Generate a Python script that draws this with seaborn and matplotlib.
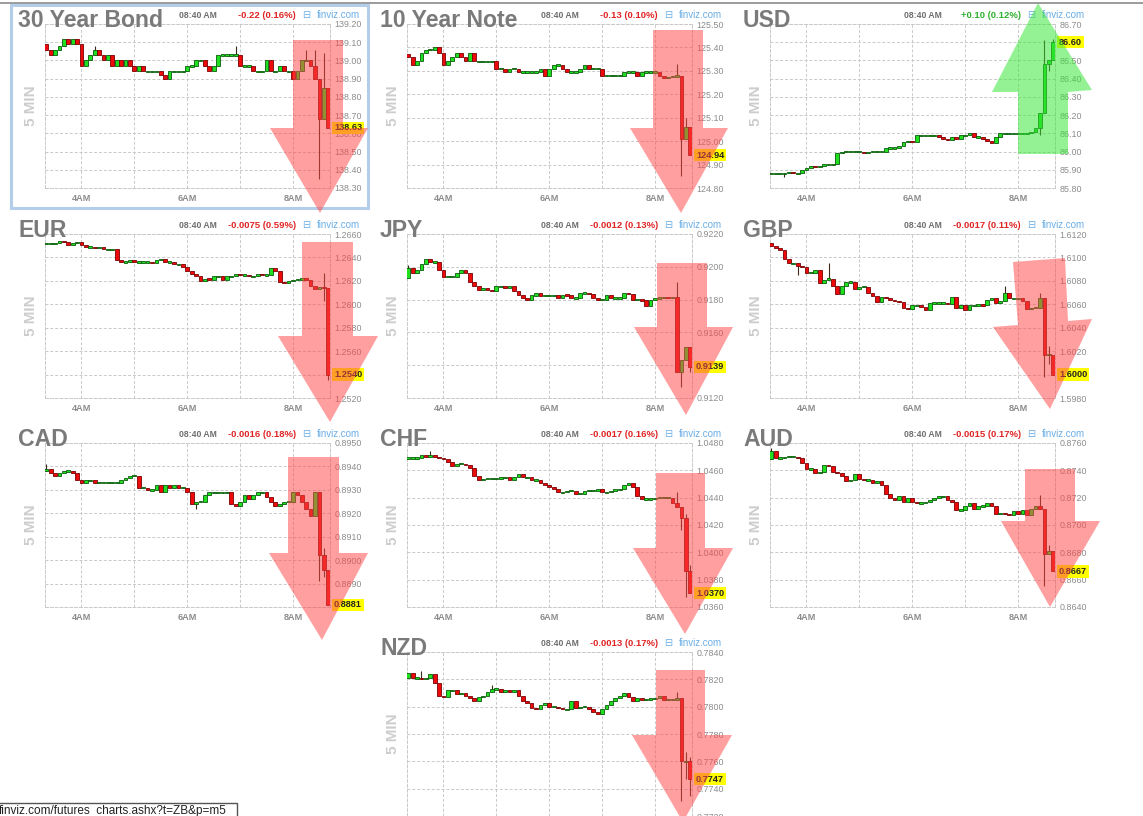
import numpy as np
import matplotlib
matplotlib.use("Agg")
import matplotlib.pyplot as plt
from matplotlib.patches import Polygon, Rectangle
import seaborn as sns

# ------------------------------------------------------------------ data
titles = ["30 Year Bond", "10 Year Note", "USD", "EUR", "JPY", "GBP",
          "CAD", "CHF", "AUD", "NZD"]
changes = ["-0.22 (0.16%)", "-0.13 (0.10%)", "+0.10 (0.12%)", "-0.0075 (0.59%)",
           "-0.0012 (0.13%)", "-0.0017 (0.11%)", "-0.0016 (0.18%)", "-0.0017 (0.16%)",
           "-0.0015 (0.17%)", "-0.0013 (0.17%)"]
last_labels = ["138.63", "124.94", "86.60", "1.2540", "0.9139", "1.6000",
               "0.8881", "1.0370", "0.8667", "0.7747"]
y_min = [138.30, 124.80, 85.80, 1.2520, 0.9120, 1.5980, 0.8880, 1.0360, 0.8640, 0.7720]
y_max = [139.20, 125.50, 86.70, 1.2660, 0.9220, 1.6120, 0.8950, 1.0480, 0.8760, 0.7840]
y_step = [0.10, 0.10, 0.10, 0.0020, 0.0020, 0.0020, 0.0010, 0.0020, 0.0020, 0.0020]
decimals = [2, 2, 2, 4, 4, 4, 4, 4, 4, 4]
first_open = [139.09, 125.37, 85.88, 1.2652, 0.9193, 1.6112, 0.8938, 1.0469, 0.8748, 0.7821]
time_labels = ["4AM", "6AM", "8AM"]
time_label_hours = [4, 6, 8]
time_header = "08:40 AM"

# 5-minute closes, 03:20 .. 08:40
bond30_close = [139.06, 139.03, 139.06, 139.08, 139.12, 139.09, 139.12, 139.09, 138.97, 139.00,
                139.03, 139.06, 139.03, 139.00, 139.03, 138.97, 139.00, 138.97, 139.00, 138.97,
                138.94, 138.97, 138.94, 138.94, 138.94, 138.94, 138.92, 138.90, 138.94, 138.94,
                138.94, 138.94, 138.97, 138.97, 139.00, 139.00, 138.97, 138.94, 138.97, 139.03,
                139.03, 139.03, 139.03, 139.03, 138.97, 138.97, 138.97, 138.94, 138.94, 138.94,
                139.00, 138.94, 138.94, 138.97, 138.94, 138.94, 138.90, 138.94, 139.00, 139.00,
                138.97, 138.90, 138.68, 138.85, 138.63]
note10_close = [125.36, 125.325, 125.34, 125.375, 125.39, 125.39, 125.40, 125.375, 125.325, 125.34,
                125.36, 125.375, 125.36, 125.34, 125.375, 125.34, 125.34, 125.34, 125.34, 125.34,
                125.31, 125.31, 125.295, 125.31, 125.31, 125.295, 125.295, 125.295, 125.295, 125.295,
                125.31, 125.28, 125.31, 125.325, 125.325, 125.31, 125.295, 125.295, 125.295, 125.31,
                125.325, 125.31, 125.31, 125.31, 125.28, 125.28, 125.28, 125.28, 125.28, 125.295,
                125.295, 125.295, 125.28, 125.295, 125.295, 125.295, 125.295, 125.28, 125.27, 125.275,
                125.275, 125.28, 125.01, 125.06, 124.94]
usd_close = [85.88, 85.88, 85.88, 85.88, 85.89, 85.88, 85.88, 85.90, 85.91, 85.92,
             85.915, 85.92, 85.93, 85.93, 85.93, 85.99, 86.00, 86.00, 86.00, 86.00,
             86.00, 85.99, 86.00, 86.00, 86.00, 86.00, 86.02, 86.02, 86.02, 86.03,
             86.05, 86.06, 86.05, 86.09, 86.09, 86.09, 86.09, 86.09, 86.08, 86.07,
             86.065, 86.08, 86.07, 86.09, 86.09, 86.10, 86.08, 86.08, 86.07, 86.06,
             86.045, 86.08, 86.10, 86.10, 86.10, 86.10, 86.10, 86.10, 86.10, 86.11,
             86.13, 86.21, 86.48, 86.50, 86.60]
eur_close = [1.2652, 1.2652, 1.2652, 1.2654, 1.2653, 1.2651, 1.2652, 1.2653, 1.2651, 1.2649,
             1.2649, 1.2648, 1.2649, 1.2647, 1.2647, 1.2647, 1.2638, 1.2636, 1.2636, 1.2638,
             1.2636, 1.2636, 1.2636, 1.2636, 1.2635, 1.2638, 1.2639, 1.2636, 1.2636, 1.2634,
             1.2634, 1.2632, 1.2628, 1.2626, 1.2624, 1.2620, 1.2622, 1.2621, 1.2624, 1.2624,
             1.2621, 1.2624, 1.2624, 1.2626, 1.2625, 1.2625, 1.2624, 1.2624, 1.2626, 1.2625,
             1.2625, 1.2631, 1.2628, 1.2619, 1.2618, 1.2620, 1.2621, 1.2621, 1.2622, 1.2621,
             1.2616, 1.2613, 1.2615, 1.2614, 1.2540]
jpy_close = [0.9199, 0.9196, 0.9198, 0.9202, 0.9205, 0.9203, 0.9203, 0.9198, 0.9194, 0.9194,
             0.9194, 0.9196, 0.9198, 0.9196, 0.9191, 0.9188, 0.9186, 0.9187, 0.9186, 0.9185,
             0.9188, 0.9188, 0.9187, 0.9188, 0.9185, 0.9183, 0.9181, 0.9180, 0.91825, 0.9184,
             0.91825, 0.91825, 0.91825, 0.91825, 0.9181, 0.9183, 0.91825, 0.9181, 0.9181, 0.9184,
             0.9184, 0.91835, 0.9181, 0.9180, 0.9180, 0.9183, 0.9181, 0.9181, 0.9181, 0.9184,
             0.91835, 0.9180, 0.9180, 0.91795, 0.9176, 0.9180, 0.9181, 0.9181, 0.91815, 0.9181,
             0.91815, 0.9136, 0.9143, 0.9151, 0.9139]
gbp_close = [1.6110, 1.6108, 1.6106, 1.6099, 1.6095, 1.6095, 1.6093, 1.6092, 1.6087, 1.6087,
             1.6089, 1.6078, 1.6081, 1.6082, 1.6076, 1.6069, 1.6076, 1.6079, 1.6079, 1.6073,
             1.6075, 1.6075, 1.6070, 1.6067, 1.6062, 1.6066, 1.6065, 1.6064, 1.6063, 1.6062,
             1.6057, 1.6056, 1.6059, 1.6059, 1.6058, 1.6055, 1.6061, 1.6061, 1.6061, 1.6061,
             1.6060, 1.6066, 1.6057, 1.6059, 1.6055, 1.6059, 1.6059, 1.6060, 1.6059, 1.6064,
             1.6065, 1.6061, 1.6063, 1.6070, 1.6065, 1.6065, 1.6065, 1.6063, 1.6056, 1.6057,
             1.6057, 1.6065, 1.6017, 1.6017, 1.6000]
cad_close = [0.8939, 0.8937, 0.8936, 0.8937, 0.8938, 0.8938, 0.8937, 0.8934, 0.8933, 0.8934,
             0.8934, 0.8933, 0.8933, 0.8933, 0.8933, 0.8933, 0.8933, 0.8934, 0.8935, 0.8936,
             0.8936, 0.8931, 0.8931, 0.8930, 0.8930, 0.8932, 0.8929, 0.8932, 0.8931, 0.8932,
             0.8931, 0.8931, 0.8929, 0.8924, 0.8925, 0.8925, 0.8928, 0.8929, 0.8929, 0.8929,
             0.8929, 0.8929, 0.8924, 0.8923, 0.8925, 0.8928, 0.8926, 0.8928, 0.8929, 0.8929,
             0.8927, 0.8925, 0.8923, 0.8924, 0.8925, 0.8925, 0.8929, 0.8928, 0.8925, 0.8922,
             0.8919, 0.8929, 0.8902, 0.8896, 0.8881]
chf_close = [1.0469, 1.0469, 1.0469, 1.0471, 1.0470, 1.0471, 1.0470, 1.0469, 1.0468, 1.0466,
             1.0463, 1.0465, 1.0465, 1.0464, 1.0462, 1.0456, 1.0453, 1.0454, 1.0454, 1.0454,
             1.0454, 1.0455, 1.0455, 1.0453, 1.0455, 1.0457, 1.0455, 1.0455, 1.0453, 1.0453,
             1.0451, 1.0449, 1.0448, 1.0446, 1.0444, 1.0444, 1.0445, 1.0445, 1.0443, 1.0443,
             1.0445, 1.0445, 1.0445, 1.0446, 1.0444, 1.0444, 1.0445, 1.0446, 1.0446, 1.0449,
             1.0451, 1.0448, 1.0441, 1.0439, 1.0439, 1.0439, 1.0440, 1.0440, 1.0440, 1.0440,
             1.0436, 1.0433, 1.0425, 1.0386, 1.0370]
aud_close = [0.8754, 0.8749, 0.8749, 0.8750, 0.8750, 0.8750, 0.8749, 0.8745, 0.8741, 0.8741,
             0.8738, 0.8739, 0.8744, 0.8743, 0.8739, 0.8738, 0.8736, 0.8732, 0.8733, 0.8737,
             0.8734, 0.8733, 0.8733, 0.8731, 0.8732, 0.8729, 0.8723, 0.8720, 0.8718, 0.8721,
             0.8717, 0.8720, 0.8717, 0.8716, 0.8716, 0.8717, 0.8718, 0.8720, 0.8721, 0.8721,
             0.8718, 0.8717, 0.8711, 0.8711, 0.8714, 0.8716, 0.8712, 0.8714, 0.8714, 0.8716,
             0.8714, 0.8708, 0.8709, 0.8708, 0.8707, 0.8710, 0.8708, 0.8711, 0.8707, 0.8712,
             0.8714, 0.8712, 0.8679, 0.8681, 0.8666]
nzd_close = [0.7825, 0.7821, 0.7821, 0.7820, 0.7821, 0.7824, 0.7817, 0.7808, 0.7807, 0.7812,
             0.7812, 0.7809, 0.7810, 0.7808, 0.7806, 0.7804, 0.7807, 0.7808, 0.7811, 0.7813,
             0.7813, 0.7811, 0.7812, 0.7811, 0.7812, 0.7808, 0.7804, 0.7803, 0.7799, 0.7798,
             0.7801, 0.7803, 0.7800, 0.7800, 0.7799, 0.7798, 0.7798, 0.7804, 0.7799, 0.7800,
             0.7800, 0.7798, 0.7796, 0.7795, 0.7798, 0.7801, 0.7804, 0.7806, 0.7808, 0.7810,
             0.7807, 0.7804, 0.7806, 0.7805, 0.7805, 0.7806, 0.7806, 0.7808, 0.7805, 0.7805,
             0.7805, 0.7806, 0.7760, 0.7760, 0.7747]

# wicks: (bar index, low, high)
bond30_wicks = [(11, 139.03, 139.08), (43, 139.03, 139.08), (59, 139.00, 139.06),
                (61, 138.90, 139.06), (62, 138.35, 138.90), (63, 138.68, 139.04)]
note10_wicks = [(61, 125.28, 125.33), (62, 124.85, 125.28), (63, 125.01, 125.10)]
usd_wicks = [(3, 85.86, 85.88), (61, 86.09, 86.21), (62, 86.21, 86.61),
             (63, 86.44, 86.50), (64, 86.50, 86.62)]
eur_wicks = [(63, 1.2603, 1.2627), (64, 1.2535, 1.2614)]
jpy_wicks = [(0, 0.9193, 0.9201), (61, 0.9136, 0.9191), (62, 0.9127, 0.9143), (64, 0.9136, 0.9151)]
gbp_wicks = [(6, 1.6085, 1.6093), (13, 1.6082, 1.6095), (53, 1.6070, 1.6076),
             (61, 1.6057, 1.6070), (62, 1.5998, 1.6065), (63, 1.6009, 1.6024)]
cad_wicks = [(0, 0.8938, 0.8941), (34, 0.8922, 0.8925), (62, 0.8891, 0.8929), (63, 0.8893, 0.8905)]
chf_wicks = [(5, 1.0470, 1.0474), (61, 1.0433, 1.0444), (62, 1.0416, 1.0433),
             (63, 1.0367, 1.0428), (64, 1.0370, 1.0391)]
aud_wicks = [(0, 0.8748, 0.8756), (61, 0.8712, 0.8722), (62, 0.8655, 0.8712), (63, 0.8679, 0.8685)]
nzd_wicks = [(3, 0.7820, 0.7826), (19, 0.7811, 0.7816), (61, 0.7805, 0.7811),
             (62, 0.7731, 0.7806), (63, 0.7747, 0.7767), (64, 0.7735, 0.7763)]

closes_all = [bond30_close, note10_close, usd_close, eur_close, jpy_close,
              gbp_close, cad_close, chf_close, aud_close, nzd_close]
wicks_all = [bond30_wicks, note10_wicks, usd_wicks, eur_wicks, jpy_wicks,
             gbp_wicks, cad_wicks, chf_wicks, aud_wicks, nzd_wicks]

start_hour = 3 + 20 / 60      # first 5-minute bar at 03:20
bar_hours = 5 / 60

# ------------------------------------------------------------------ layout
W, H = 1143, 816
col_left = [45, 407, 770]
row_top = [24, 234, 443, 652]
PW, PH = 285, 164
grid_pos = [(0, 0), (0, 1), (0, 2), (1, 0), (1, 1), (1, 2), (2, 0), (2, 1), (2, 2), (3, 1)]
xlim = (3.31, 8.70)

arrows = [
    ("down", [(293, 40), (343, 40), (343, 128), (368, 128), (320, 213), (270, 128), (293, 128)]),
    ("down", [(653, 30), (703, 30), (703, 128), (728, 128), (681, 213), (630, 128), (653, 128)]),
    ("up",   [(1018, 154), (1068, 154), (1068, 92), (1092, 90), (1038, 3), (992, 92), (1018, 92)]),
    ("down", [(302, 242), (353, 242), (353, 336), (378, 336), (330, 422), (278, 336), (302, 336)]),
    ("down", [(657, 263), (707, 263), (707, 327), (733, 327), (686, 415), (634, 327), (657, 327)]),
    ("down", [(1013, 262), (1065, 258), (1068, 321), (1092, 319), (1050, 409), (993, 327), (1018, 325)]),
    ("down", [(288, 457), (339, 457), (339, 553), (368, 553), (322, 640), (269, 553), (288, 553)]),
    ("down", [(656, 473), (705, 473), (705, 548), (733, 548), (685, 634), (633, 548), (656, 548)]),
    ("down", [(1025, 469), (1075, 469), (1075, 521), (1100, 521), (1050, 607), (1001, 521), (1025, 521)]),
    ("down", [(656, 670), (705, 670), (705, 735), (732, 735), (683, 822), (632, 735), (656, 735)]),
]

sns.set_theme(style="white")
plt.rcParams["font.family"] = ["Liberation Sans", "DejaVu Sans"]

fig = plt.figure(figsize=(W / 100, H / 100), dpi=100)
fig.patch.set_facecolor("white")

GREEN, GREEN_EDGE = "#1fe01f", "#0a5a0a"
RED, RED_EDGE = "#ee0a0a", "#7a0000"
GRID = "#c9c9c9"
TITLE_C = "#7a7a7a"


def fx(x):
    return x / W


def fy(y):
    return 1 - y / H


for i, (r, c) in enumerate(grid_pos):
    L, T = col_left[c], row_top[r]
    ax = fig.add_axes([fx(L), fy(T + PH), PW / W, PH / H])
    closes = np.array(closes_all[i], dtype=float)
    opens = np.concatenate([[first_open[i]], closes[:-1]])
    t = start_hour + bar_hours * np.arange(len(closes))
    rng = y_max[i] - y_min[i]
    min_h = rng / PH * 1.3

    # wicks
    for idx, lo, hi in wicks_all[i]:
        ax.vlines(t[idx], lo, hi, color="#3a2a1a", lw=0.8, zorder=2)

    up = closes >= opens
    heights = np.maximum(np.abs(closes - opens), min_h)
    bottoms = np.where(np.abs(closes - opens) < min_h,
                       (closes + opens) / 2 - min_h / 2, np.minimum(opens, closes))
    face = np.where(up, GREEN, RED)
    edge = np.where(up, GREEN_EDGE, RED_EDGE)
    ax.bar(t, heights, bottom=bottoms, width=bar_hours * 0.85, color=face,
           edgecolor=edge, linewidth=0.6, zorder=3)

    ax.set_xlim(*xlim)
    ax.set_ylim(y_min[i], y_max[i])
    yt = np.round(np.arange(y_min[i], y_max[i] + y_step[i] / 2, y_step[i]), 6)
    ax.set_yticks(yt)
    ax.set_yticklabels([f"{v:.{decimals[i]}f}" for v in yt])
    ax.yaxis.tick_right()
    ax.tick_params(axis="y", length=0, pad=3, labelsize=6.4, labelcolor="#8c8c8c")
    ax.set_xticks(time_label_hours)
    if r < 3:
        ax.set_xticklabels(time_labels, fontweight="bold")
    else:
        ax.set_xticklabels([])
    ax.set_xticks([5, 7], minor=True)
    ax.tick_params(axis="x", which="both", length=0, pad=4, labelsize=6.6, labelcolor="#8c8c8c")
    ax.grid(True, which="both", ls=(0, (3, 2)), color=GRID, lw=0.7, zorder=0)
    for sp in ax.spines.values():
        sp.set_visible(True)
        sp.set_linestyle((0, (3, 2)))
        sp.set_color(GRID)
        sp.set_linewidth(0.7)
    ax.set_facecolor("white")

    # current price label
    ax.annotate(last_labels[i], xy=(1, closes[-1]), xycoords=("axes fraction", "data"),
                xytext=(4, 0), textcoords="offset pixels", ha="left", va="center",
                fontsize=6.6, fontweight="bold", color="#222222",
                bbox=dict(boxstyle="square,pad=0.18", fc="#ffff00", ec="none"), zorder=5)

    # header texts
    R = L + PW + 30
    fig.text(fx(L - 27), fy(T + 3), titles[i], fontsize=16.6, fontweight="bold",
             color=TITLE_C, ha="left", va="baseline")
    fig.text(fx(R), fy(T - 6), "finviz.com", fontsize=7, color="#6aaee6",
             ha="right", va="baseline")
    fig.text(fx(R - 54), fy(T - 6), "\u229f", fontsize=7, color="#6aaee6",
             ha="center", va="baseline", family="DejaVu Sans")
    ch_col = "#2fb02f" if changes[i].startswith("+") else "#e02424"
    fig.text(fx(R - 64), fy(T - 6), changes[i], fontsize=6.8, fontweight="bold",
             color=ch_col, ha="right", va="baseline")
    fig.text(fx(R - 143), fy(T - 6), time_header, fontsize=6.2, fontweight="bold",
             color="#6e6e6e", ha="right", va="baseline")
    fig.text(fx(L - 14), fy(T + PH / 2), "5 MIN", fontsize=11, fontweight="bold",
             color="#cdcdcd", rotation=90, ha="center", va="center")

# ------------------------------------------------------------------ overlay
ov = fig.add_axes([0, 0, 1, 1], zorder=10)
ov.set_xlim(0, W)
ov.set_ylim(H, 0)
ov.axis("off")
ov.patch.set_alpha(0)

ov.plot([0, W], [3, 3], color="#8a8a8a", lw=1.2)
ov.add_patch(Rectangle((11, 5), 357, 203, fill=False, ec="#b3cdea", lw=2.2))

for kind, pts in arrows:
    col = (0.2, 0.9, 0.2) if kind == "up" else (1.0, 0.28, 0.28)
    ov.add_patch(Polygon(pts, closed=True, fc=col, ec="none", alpha=0.52))

ov.add_patch(Rectangle((-3, 803), 240, 20, fc="white", ec="#555555", lw=1.0))
ov.text(-1.5, 811, "finviz.com/futures_charts.ashx?t=ZB&p=m5", fontsize=8.5,
        color="#222222", ha="left", va="center")

fig.savefig("out.png", dpi=100)
